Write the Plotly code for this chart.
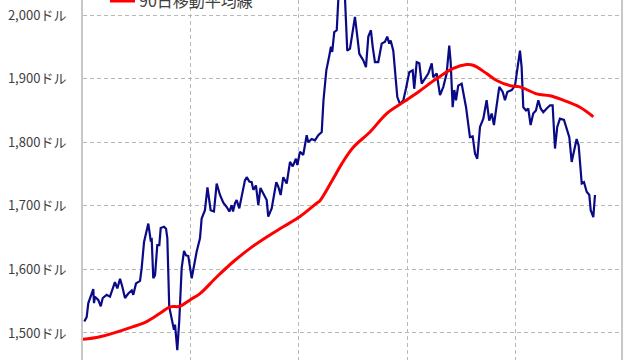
import plotly.graph_objects as go

# Gold price (USD/oz) — day offsets from 2020-01-01
price_days = [1.1, 3.1, 4.5, 7.4, 8.7, 9.3, 10.1, 12.9, 15.0, 16.7, 20.0, 22.8, 25.6, 27.0, 29.0, 31.3,
              33.2, 35.5, 38.3, 41.2, 42.5, 44.8, 48.2, 49.6, 51.6, 55.2, 57.2, 58.1, 59.4, 60.9, 62.8,
              64.5, 65.7, 68.5, 70.2, 71.3, 72.9, 75.0, 76.9, 77.8, 79.7, 81.4, 83.4, 85.4, 87.1, 89.0,
              91.9, 96.1, 98.9, 100.3, 103.1, 105.2, 107.9, 110.7, 113.0, 115.8, 118.6, 121.5, 123.7,
              125.7, 126.8, 128.5, 129.9, 132.1, 135.0, 136.9, 138.4, 140.6, 142.6, 144.0, 146.2, 148.2,
              150.0, 152.4, 155.3, 156.6, 159.5, 161.5, 163.4, 165.1, 167.1, 169.3, 172.2, 175.0, 177.3,
              180.0, 181.2, 183.4, 186.2, 189.1, 190.4, 193.3, 196.1, 198.9, 201.8, 203.3, 205.7, 208.2,
              209.6, 210.7, 212.4, 214.5, 216.0, 218.1, 219.8, 221.5, 223.4, 225.7, 229.9, 231.9, 233.6,
              236.9, 239.2, 241.2, 243.4, 244.9, 246.8, 249.6, 252.5, 255.3, 257.2, 258.9, 260.1, 262.3,
              264.3, 265.7, 268.0, 270.8, 273.0, 275.8, 278.7, 280.0, 282.1, 284.3, 286.3, 289.1, 291.9,
              294.8, 296.1, 299.0, 301.8, 304.6, 307.4, 309.6, 310.8, 312.5, 313.9, 315.3, 317.2, 320.1,
              322.1, 323.8, 327.1, 329.4, 331.4, 333.3, 335.6, 338.4, 341.2, 343.4, 345.5, 347.4, 349.7,
              351.9, 354.8, 356.7, 358.7, 362.4, 365.2, 367.1, 369.4, 370.8, 372.2, 374.5, 376.4, 378.4,
              380.6, 382.9, 384.9, 386.9, 389.1, 392.0, 394.8, 397.0, 399.0, 400.9, 403.2, 406.6, 408.9,
              411.1, 413.1, 415.0, 417.3, 419.0, 421.6, 423.5, 425.8, 428.0, 429.2, 431.4, 432.8]
price_vals = [1518, 1525, 1547, 1565, 1569, 1547, 1557, 1552, 1542, 1555, 1560, 1557, 1573, 1580, 1570, 1585,
              1573, 1555, 1562, 1567, 1560, 1578, 1582, 1602, 1643, 1672, 1646, 1647, 1586, 1591, 1638,
              1638, 1665, 1667, 1664, 1649, 1541, 1520, 1505, 1513, 1473, 1520, 1602, 1629, 1622, 1621,
              1586, 1628, 1649, 1680, 1693, 1729, 1693, 1691, 1735, 1717, 1705, 1698, 1691,
              1701, 1691, 1704, 1709, 1696, 1725, 1740, 1745, 1738, 1737, 1725, 1732, 1701,
              1728, 1719, 1709, 1683, 1696, 1717, 1737, 1730, 1717, 1745, 1735, 1769, 1762,
              1774, 1764, 1785, 1780, 1811, 1800, 1805, 1803, 1811, 1816, 1866, 1913, 1936,
              1950, 1942, 1973, 1976, 2030, 2062, 2050, 2025, 1944, 1947, 1997, 1966, 1939,
              1929, 1918, 1966, 1976, 1950, 1926, 1926, 1955, 1958, 1966, 1955, 1960, 1944,
              1902, 1871, 1860, 1866, 1884, 1910, 1913, 1884, 1926, 1924, 1892, 1900, 1908,
              1924, 1902, 1908, 1874, 1887, 1908, 1952, 1926, 1855, 1882, 1866, 1889, 1892,
              1874, 1855, 1808, 1809, 1782, 1774, 1824, 1837, 1866, 1834, 1845, 1827, 1858,
              1887, 1879, 1866, 1879, 1882, 1889, 1918, 1944, 1918, 1855, 1850, 1853, 1827,
              1845, 1850, 1866, 1853, 1847, 1853, 1858, 1858, 1790, 1824, 1837, 1835, 1821,
              1808, 1769, 1787, 1805, 1795, 1735, 1737, 1722, 1717, 1693, 1682, 1717]

# 90-day moving average
ma_days = [0, 14.4, 42.5, 53.8, 65.1, 73.5, 82.0, 90.4, 98.9, 113.0, 127.0, 141.2, 155.3, 169.3, 183.4,
           197.5, 200.3, 211.6, 218.7, 228.5, 242.6, 256.7, 270.8, 284.9, 299.0, 313.0, 324.3, 329.9,
           341.2, 349.7, 360.9, 369.4, 383.5, 394.8, 406.0, 420.1, 431.4]
ma_vals = [1490, 1494, 1510, 1518, 1531, 1541, 1542, 1552, 1562, 1588, 1612, 1633, 1651, 1667, 1683,
           1704, 1708, 1743, 1766, 1792, 1816, 1845, 1863, 1881, 1900, 1916, 1922, 1921,
           1908, 1897, 1889, 1887, 1876, 1873, 1866, 1855, 1840]

quarter_days = [0, 91, 182, 274, 366, 456]
y_ticks = [1500, 1600, 1700, 1800, 1900, 2000]
y_tick_text = ["1,500ドル", "1,600ドル", "1,700ドル", "1,800ドル", "1,900ドル", "2,000ドル"]
legend_label = "90日移動平均線"

FONT = "Noto Sans CJK JP"

fig = go.Figure()
fig.add_trace(go.Scatter(x=price_days, y=price_vals, mode="lines",
                         line=dict(color="#0a0a86", width=2.2), name="金価格"))
fig.add_trace(go.Scatter(x=ma_days, y=ma_vals, mode="lines",
                         line=dict(color="#ff0000", width=3, shape="spline"), name=legend_label))

fig.update_layout(
    width=640, height=360,
    margin=dict(l=83, r=19, t=0, b=0),
    paper_bgcolor="white", plot_bgcolor="white",
    showlegend=False,
    font=dict(family=FONT, size=13, color="#404040"),
    xaxis=dict(range=[0, 454.8], tickvals=quarter_days, showticklabels=False,
               showgrid=True, gridcolor="#b8b8b8", griddash="4px,3px", gridwidth=1,
               zeroline=False, showline=False, ticks=""),
    yaxis=dict(range=[1457.5, 2023.6], tickvals=y_ticks, ticktext=y_tick_text,
               showgrid=True, gridcolor="#b8b8b8", griddash="4px,3px", gridwidth=1,
               zeroline=False, showline=True, linecolor="#c8c8c8", linewidth=2, mirror=True,
               ticks="outside", ticklen=12, tickcolor="rgba(0,0,0,0)",
               tickfont=dict(family=FONT, size=13, color="#404040")),
)

# legend entry (top of legend cropped in the original)
fig.add_shape(type="line", xref="paper", yref="paper", x0=0.0502, x1=0.0967, y0=1.0, y1=1.0,
              line=dict(color="#ff0000", width=5))
fig.add_annotation(xref="paper", yref="paper", x=0.1004, y=1.0, xanchor="left", yanchor="middle",
                   text=legend_label, showarrow=False,
                   font=dict(family=FONT, size=16, color="#404040"))

fig.write_html("out.html")
